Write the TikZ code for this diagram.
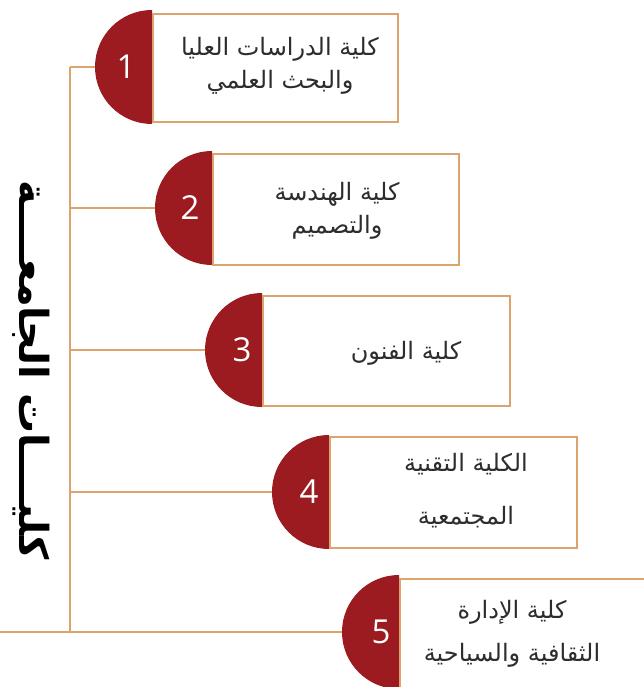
\documentclass[tikz,border=0pt]{standalone}
\usepackage{fontspec}
\TeXXeTstate=1
\newfontfamily\arabicfont[Script=Arabic]{DejaVu Sans}
\newfontfamily\numfont{Open Sans}
\definecolor{tanline}{RGB}{219,164,110}
\definecolor{dred}{RGB}{155,27,32}
\definecolor{txt}{RGB}{45,45,45}
\begin{document}
\begin{tikzpicture}[x=1pt,y=-1pt,
  link/.style={draw=tanline, line width=2.8pt},
  cbox/.style={draw=tanline, line width=2.2pt, fill=white, anchor=north west, inner sep=0pt},
  half/.style={fill=dred},
  num/.style={text=white, inner sep=0pt, font=\numfont\fontsize{33}{38}\selectfont},
  lbl/.style={text=txt, align=center, inner sep=0pt, font=\arabicfont\fontsize{24}{33}\selectfont},
  ttl/.style={text=black, rotate=-90, inner sep=0pt, font=\arabicfont\bfseries\fontsize{40}{48}\selectfont}]
\useasboundingbox (0,0) rectangle (644,687);
\clip (0,0) rectangle (644,687);
% junctions
\coordinate (j1) at (70,67);
\coordinate (j2) at (70,208);
\coordinate (j3) at (70,350);
\coordinate (j4) at (70,492);
\coordinate (j5) at (70,632);
\coordinate (e0) at (0,632);
% disc centres
\coordinate (c1) at (152,67);
\coordinate (c2) at (212,208);
\coordinate (c3) at (262,350);
\coordinate (c4) at (329,492);
\coordinate (c5) at (399,632);
\coordinate (d1) at ([xshift=-57pt]c1);
\coordinate (d2) at ([xshift=-57pt]c2);
\coordinate (d3) at ([xshift=-57pt]c3);
\coordinate (d4) at ([xshift=-57pt]c4);
\coordinate (d5) at ([xshift=-57pt]c5);
% connectors
\draw[link] (j1) -- (j5);
\draw[link] (j1) -- (d1);
\draw[link] (j2) -- (d2);
\draw[link] (j3) -- (d3);
\draw[link] (j4) -- (d4);
\draw[link] (e0) -- (d5);
% half discs
\foreach \i in {1,...,5}{
  \fill[half] (c\i) ++(0pt,57pt) arc[start angle=90,end angle=270,radius=57pt] -- cycle;
}
% boxes
\node[cbox, minimum width=245pt, minimum height=108pt] (b1) at (152,13) {};
\node[cbox, minimum width=246pt, minimum height=111pt] (b2) at (212,153) {};
\node[cbox, minimum width=247pt, minimum height=110pt] (b3) at (262,295) {};
\node[cbox, minimum width=247pt, minimum height=111pt] (b4) at (329,436) {};
\node[cbox, minimum width=260pt, minimum height=130pt] (b5) at (399,578) {};
% numbers
\node[num] (n1) at ([xshift=-26pt]c1) {1};
\node[num] (n2) at ([xshift=-22pt]c2) {2};
\node[num] (n3) at ([xshift=-20pt]c3) {3};
\node[num] (n4) at ([xshift=-20pt]c4) {4};
\node[num] (n5) at ([xshift=-18pt]c5) {5};
% labels
\node[lbl] (t1) at (280,66) {\beginR كلية الدراسات العليا\endR\\\beginR والبحث العلمي\endR};
\node[lbl] (t2) at (337,211) {\beginR كلية الهندسة\endR\\\beginR والتصميم\endR};
\node[lbl] (t3) at (406,353) {\beginR كلية الفنون\endR};
\node[lbl, font=\arabicfont\fontsize{24}{53}\selectfont] (t4) at (466,491) {\beginR الكلية التقنية\endR\\\beginR المجتمعية\endR};
\node[lbl, font=\arabicfont\fontsize{24}{43}\selectfont] (t5) at (512,634) {\beginR كلية الإدارة\endR\\\beginR الثقافية والسياحية\endR};
% title
\node[ttl] (title) at (31,370) {\beginR كليــــات الجامعــــة\endR};
\end{tikzpicture}
\end{document}
